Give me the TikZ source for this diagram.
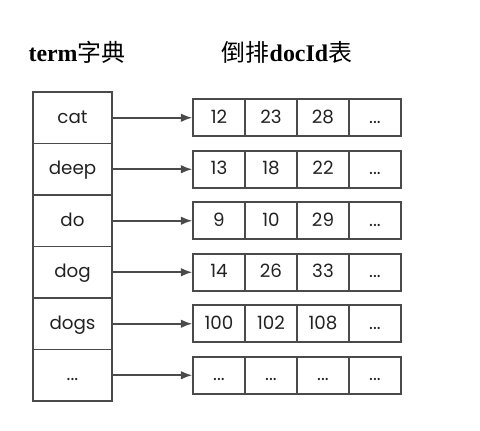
\documentclass[tikz,border=0pt]{standalone}
\usepackage{fontspec}
\setmainfont{Liberation Serif}
\newfontfamily\cjk{Noto Sans CJK SC}
\newfontfamily\cellfont{Poppins}
\usetikzlibrary{arrows.meta}
\definecolor{boxgray}{HTML}{4A4A4A}
\definecolor{txtgray}{HTML}{222222}
\tikzset{
	termbox/.style={draw=boxgray, line width=1.1pt, inner sep=0pt, minimum width=1.975cm, minimum height=1.2875cm, text height=8.5pt, text depth=0.5pt, text=txtgray, font=\cellfont\fontsize{13}{15}\selectfont},
	idbox/.style={draw=boxgray, line width=1.1pt, inner sep=0pt, minimum width=1.3cm, minimum height=0.925cm, text height=8.5pt, text depth=0.5pt, text=txtgray, font=\cellfont\fontsize{13}{15}\selectfont},
	ptr/.style={draw=boxgray, line width=1.1pt, -{Latex[length=8pt,width=6pt]}},
	titel/.style={font=\fontsize{17}{20}\selectfont}
}
\begin{document}
\begin{tikzpicture}[x=0.025cm, y=-0.025cm]
	\useasboundingbox (0,0) rectangle (480,430);
	
	%fejlecek
	\node[titel] (tdict) at (77,52) {\textbf{term}{\cjk 字典}};
	\node[titel] (tpost) at (287,52) {{\cjk 倒排}\textbf{docId}{\cjk 表}};
	
	%term oszlop
	\node[termbox] (t1) at (72.5,117.75) {cat};
	\node[termbox] (t2) at (72.5,169.25) {deep};
	\node[termbox] (t3) at (72.5,220.75) {do};
	\node[termbox] (t4) at (72.5,272.25) {dog};
	\node[termbox] (t5) at (72.5,323.75) {dogs};
	\node[termbox] (t6) at (72.5,375.25) {...};
	
	%docId listak
	\node[idbox] (d11) at (219,117.75) {12};
	\node[idbox] (d12) at (271,117.75) {23};
	\node[idbox] (d13) at (323,117.75) {28};
	\node[idbox] (d14) at (375,117.75) {...};
	
	\node[idbox] (d21) at (219,169.25) {13};
	\node[idbox] (d22) at (271,169.25) {18};
	\node[idbox] (d23) at (323,169.25) {22};
	\node[idbox] (d24) at (375,169.25) {...};
	
	\node[idbox] (d31) at (219,220.75) {9};
	\node[idbox] (d32) at (271,220.75) {10};
	\node[idbox] (d33) at (323,220.75) {29};
	\node[idbox] (d34) at (375,220.75) {...};
	
	\node[idbox] (d41) at (219,272.25) {14};
	\node[idbox] (d42) at (271,272.25) {26};
	\node[idbox] (d43) at (323,272.25) {33};
	\node[idbox] (d44) at (375,272.25) {...};
	
	\node[idbox] (d51) at (219,323.75) {100};
	\node[idbox] (d52) at (271,323.75) {102};
	\node[idbox] (d53) at (323,323.75) {108};
	\node[idbox] (d54) at (375,323.75) {...};
	
	\node[idbox] (d61) at (219,375.25) {...};
	\node[idbox] (d62) at (271,375.25) {...};
	\node[idbox] (d63) at (323,375.25) {...};
	\node[idbox] (d64) at (375,375.25) {...};
	
	%nyilak
	\draw[ptr] (t1.east) -- (d11.west);
	\draw[ptr] (t2.east) -- (d21.west);
	\draw[ptr] (t3.east) -- (d31.west);
	\draw[ptr] (t4.east) -- (d41.west);
	\draw[ptr] (t5.east) -- (d51.west);
	\draw[ptr] (t6.east) -- (d61.west);
	
\end{tikzpicture}
\end{document}
